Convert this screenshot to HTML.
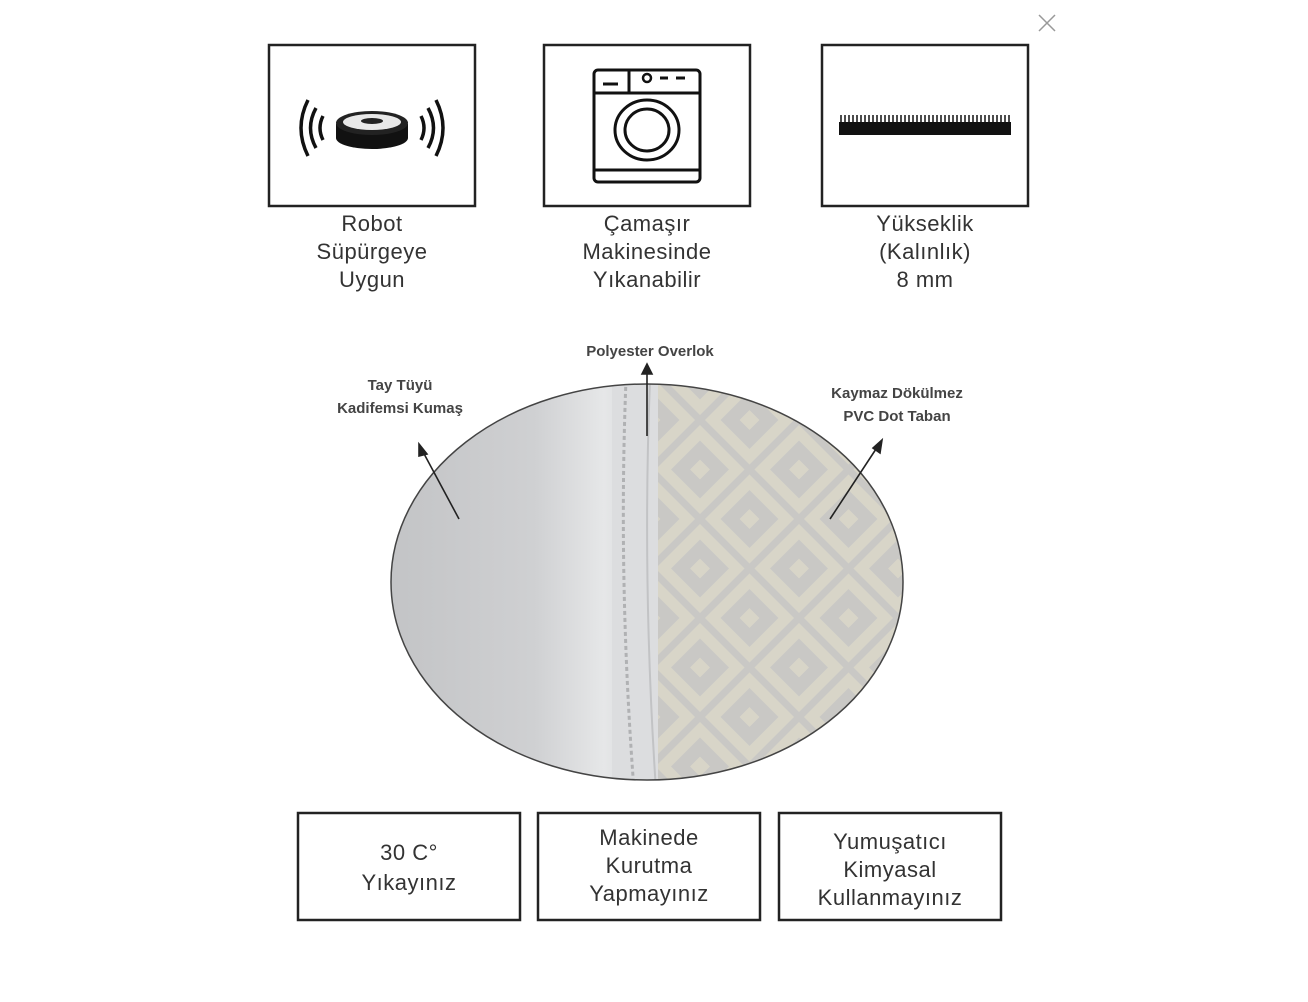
<!DOCTYPE html>
<html><head><meta charset="utf-8"><style>
html,body{margin:0;padding:0;background:#fff;}
body{width:1308px;height:1002px;overflow:hidden;position:relative;font-family:"Liberation Sans",sans-serif;}
.t{position:absolute;text-align:center;color:#333;font-size:22px;line-height:28px;letter-spacing:0.5px;}
.b{position:absolute;text-align:center;color:#444;font-size:15px;font-weight:bold;line-height:23px;}
</style></head><body>
<svg width="1308" height="1002" style="position:absolute;left:0;top:0">
<defs>
<pattern id="dia" width="70" height="70" patternUnits="userSpaceOnUse" patternTransform="translate(700,420) rotate(45)">
<rect x="9" y="9" width="52" height="52" fill="none" stroke="#d8d5c8" stroke-width="11"/>
<rect x="28" y="28" width="14" height="14" fill="#d8d5c8"/>
</pattern>
<clipPath id="cc"><ellipse cx="647" cy="582" rx="256" ry="198"/></clipPath>
<linearGradient id="lg" x1="0" x2="1"><stop offset="0" stop-color="#c2c3c5"/><stop offset="0.55" stop-color="#cfd0d2"/><stop offset="0.8" stop-color="#e6e7e8"/><stop offset="1" stop-color="#cdd0d2"/></linearGradient>
</defs>
<g fill="none" stroke="#222" stroke-width="2.5">
<rect x="269" y="45" width="206" height="161"/>
<rect x="544" y="45" width="206" height="161"/>
<rect x="822" y="45" width="206" height="161"/>
<rect x="298" y="813" width="222" height="107"/>
<rect x="538" y="813" width="222" height="107"/>
<rect x="779" y="813" width="222" height="107"/>
</g>
<!-- robot -->
<g stroke="#111" fill="none" stroke-width="3.5">
<path d="M308 100 Q294 128 308 156"/><path d="M316 108 Q305 128 316 148"/><path d="M323 116 Q317 128 323 140"/>
<path d="M436 100 Q450 128 436 156"/><path d="M428 108 Q439 128 428 148"/><path d="M421 116 Q427 128 421 140"/>
</g>
<ellipse cx="372" cy="138" rx="36" ry="11" fill="#111"/>
<rect x="336" y="124" width="72" height="14" fill="#111"/>
<ellipse cx="372" cy="123" rx="36" ry="12" fill="#222"/>
<ellipse cx="372" cy="122" rx="29" ry="8" fill="#e8e8e8"/>
<ellipse cx="372" cy="121" rx="11" ry="3" fill="#222"/>
<!-- washer -->
<g stroke="#111" fill="none" stroke-width="3">
<rect x="594" y="70" width="106" height="112" rx="4"/>
<line x1="594" y1="93" x2="700" y2="93"/><line x1="629" y1="70" x2="629" y2="93"/>
<line x1="594" y1="170" x2="700" y2="170"/>
<ellipse cx="647" cy="130" rx="32" ry="30"/><ellipse cx="647" cy="130" rx="22" ry="21"/>
<line x1="603" y1="84" x2="618" y2="84"/><line x1="660" y1="78" x2="668" y2="78"/><line x1="676" y1="78" x2="685" y2="78"/>
</g>
<circle cx="647" cy="78" r="4" fill="none" stroke="#111" stroke-width="2.5"/>
<!-- carpet -->
<rect x="839" y="122" width="172" height="13" fill="#111"/>
<g stroke="#111" stroke-width="1.5"><path d="M841 122V115M845 122V115M849 122V115M853 122V115M857 122V115M861 122V115M865 122V115M869 122V115M873 122V115M877 122V115M881 122V115M885 122V115M889 122V115M893 122V115M897 122V115M901 122V115M905 122V115M909 122V115M913 122V115M917 122V115M921 122V115M925 122V115M929 122V115M933 122V115M937 122V115M941 122V115M945 122V115M949 122V115M953 122V115M957 122V115M961 122V115M965 122V115M969 122V115M973 122V115M977 122V115M981 122V115M985 122V115M989 122V115M993 122V115M997 122V115M1001 122V115M1005 122V115M1009 122V115"/></g>
<!-- close -->
<g stroke="#999" stroke-width="1.5"><line x1="1039" y1="15" x2="1055" y2="31"/><line x1="1055" y1="15" x2="1039" y2="31"/></g>
<!-- circle -->
<g clip-path="url(#cc)">
<rect x="380" y="380" width="280" height="410" fill="url(#lg)"/>
<rect x="655" y="380" width="260" height="410" fill="#c9c8c5"/>
<rect x="655" y="380" width="260" height="410" fill="url(#dia)"/>
<rect x="612" y="380" width="46" height="410" fill="#dcdddf"/>
<path d="M626 380 Q618 580 634 790" stroke="#b0b1b3" stroke-width="3" stroke-dasharray="4 3" fill="none"/>
<path d="M650 380 Q642 580 656 790" stroke="#c2c3c5" stroke-width="2" fill="none"/>
</g>
<ellipse cx="647" cy="582" rx="256" ry="198" fill="none" stroke="#444" stroke-width="1.5"/>
<!-- arrows -->
<g stroke="#222" stroke-width="1.6" fill="#222">
<line x1="459" y1="519" x2="422" y2="450"/><polygon points="419,444 427,454 419,456"/>
<line x1="647" y1="436" x2="647" y2="372"/><polygon points="642,374 647,364 652,374"/>
<line x1="830" y1="519" x2="878" y2="446"/><polygon points="882,440 880,453 873,448"/>
</g>
</svg>
<div class="t" style="left:269px;top:210px;width:206px;">Robot<br>Süpürgeye<br>Uygun</div>
<div class="t" style="left:544px;top:210px;width:206px;">Çamaşır<br>Makinesinde<br>Yıkanabilir</div>
<div class="t" style="left:822px;top:210px;width:206px;">Yükseklik<br>(Kalınlık)<br>8 mm</div>
<div class="b" style="left:540px;top:340px;width:220px;">Polyester Overlok</div>
<div class="b" style="left:290px;top:374px;width:220px;">Tay Tüyü<br>Kadifemsi Kumaş</div>
<div class="b" style="left:787px;top:382px;width:220px;">Kaymaz Dökülmez<br>PVC Dot Taban</div>
<div class="t" style="left:298px;top:838px;width:222px;line-height:30px;">30 C°<br>Yıkayınız</div>
<div class="t" style="left:538px;top:824px;width:222px;">Makinede<br>Kurutma<br>Yapmayınız</div>
<div class="t" style="left:779px;top:828px;width:222px;">Yumuşatıcı<br>Kimyasal<br>Kullanmayınız</div>
</body></html>
